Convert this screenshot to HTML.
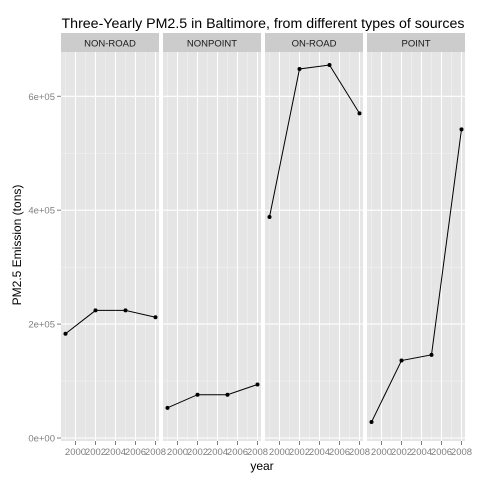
<!DOCTYPE html>
<html><head><meta charset="utf-8"><style>
body{margin:0;background:#fff;}
svg text{font-family:"Liberation Sans",sans-serif;}
</style></head><body>
<svg id="chart" width="480" height="480" xmlns="http://www.w3.org/2000/svg">
<rect width="480" height="480" fill="#fff"/>
<text x="263" y="28" font-size="14.2" text-anchor="middle" fill="#000">Three-Yearly PM2.5 in Baltimore, from different types of sources</text>
<text x="262" y="470" font-size="12" text-anchor="middle" fill="#000">year</text>
<text transform="translate(21,245) rotate(-90)" font-size="12" text-anchor="middle" fill="#000">PM2.5 Emission (tons)</text>
<g id="plot"></g>
</svg>
<script>
const panels = ["NON-ROAD","NONPOINT","ON-ROAD","POINT"];
const years = [1999,2002,2005,2008];
const nonRoad = [183000,224000,224000,212000];
const nonPoint = [53000,76000,76000,94000];
const onRoad = [388000,648000,655000,570000];
const point = [28000,136000,146000,542000];
const yTicks = [0,200000,400000,600000];
const yTickLabels = ["0e+00","2e+05","4e+05","6e+05"];
const xTicks = [2000,2002,2004,2006,2008];

const series=[nonRoad,nonPoint,onRoad,point];
const NS="http://www.w3.org/2000/svg";
const plotG=document.getElementById('plot');
function mk(t,a,p){const e=document.createElementNS(NS,t);for(const k in a)e.setAttribute(k,a[k]);(p||plotG).appendChild(e);return e;}
const pTop=52,pBot=441,pw=98,gap=4,left0=61;
const yScale=v=>438-v*(438-96.3)/600000;
panels.forEach((name,i)=>{
  const x0=left0+i*(pw+gap);
  const xScale=yr=>x0+4.5+(yr-1999)*10;
  const pg=mk('g',{});
  
  
  mk('rect',{x:x0,y:pTop,width:pw,height:pBot-pTop,fill:'#e5e5e5'},pg);
  for(let v=100000;v<=700000;v+=200000){if(yScale(v)>pTop)mk('line',{x1:x0,x2:x0+pw,y1:yScale(v),y2:yScale(v),stroke:'#f2f2f2','stroke-width':0.6},pg);}
  for(let yr=1999;yr<=2007;yr+=2)mk('line',{x1:xScale(yr),x2:xScale(yr),y1:pTop,y2:pBot,stroke:'#f2f2f2','stroke-width':0.6},pg);
  yTicks.forEach(v=>mk('line',{x1:x0,x2:x0+pw,y1:yScale(v),y2:yScale(v),stroke:'#fff','stroke-width':1.1},pg));
  xTicks.forEach(yr=>{
    mk('line',{x1:xScale(yr),x2:xScale(yr),y1:pTop,y2:pBot,stroke:'#fff','stroke-width':1.1},pg);
    mk('line',{x1:xScale(yr),x2:xScale(yr),y1:pBot,y2:pBot+4,stroke:'#7f7f7f','stroke-width':1},pg);
    const t=mk('text',{x:xScale(yr),y:pBot+14,'font-size':9.5,'text-anchor':'middle',fill:'#7f7f7f'},pg);
    t.textContent=yr;
  });
  mk('rect',{x:x0,y:33,width:pw,height:19,fill:'#cccccc'},pg);
  const st=mk('text',{x:x0+pw/2,y:46.5,'font-size':9.5,'text-anchor':'middle',fill:'#1a1a1a'},pg);
  st.textContent=name;
  
  
  const d=series[i].map((v,j)=>(j?'L':'M')+xScale(years[j])+','+yScale(v)).join('');
  const ln=mk('path',{d:d,fill:'none',stroke:'#000','stroke-width':1},pg);
  
  
  series[i].forEach((v,j)=>{
    const c=mk('circle',{cx:xScale(years[j]),cy:yScale(v),r:2,fill:'#000'},pg);
    
    
  });
});
yTicks.forEach((v,k)=>{
  mk('line',{x1:57,x2:61,y1:yScale(v),y2:yScale(v),stroke:'#7f7f7f','stroke-width':1});
  const t=mk('text',{x:55,y:yScale(v)+3.5,'font-size':9.5,'text-anchor':'end',fill:'#7f7f7f'});
  t.textContent=yTickLabels[k];
  
  
});
</script>
</body></html>
